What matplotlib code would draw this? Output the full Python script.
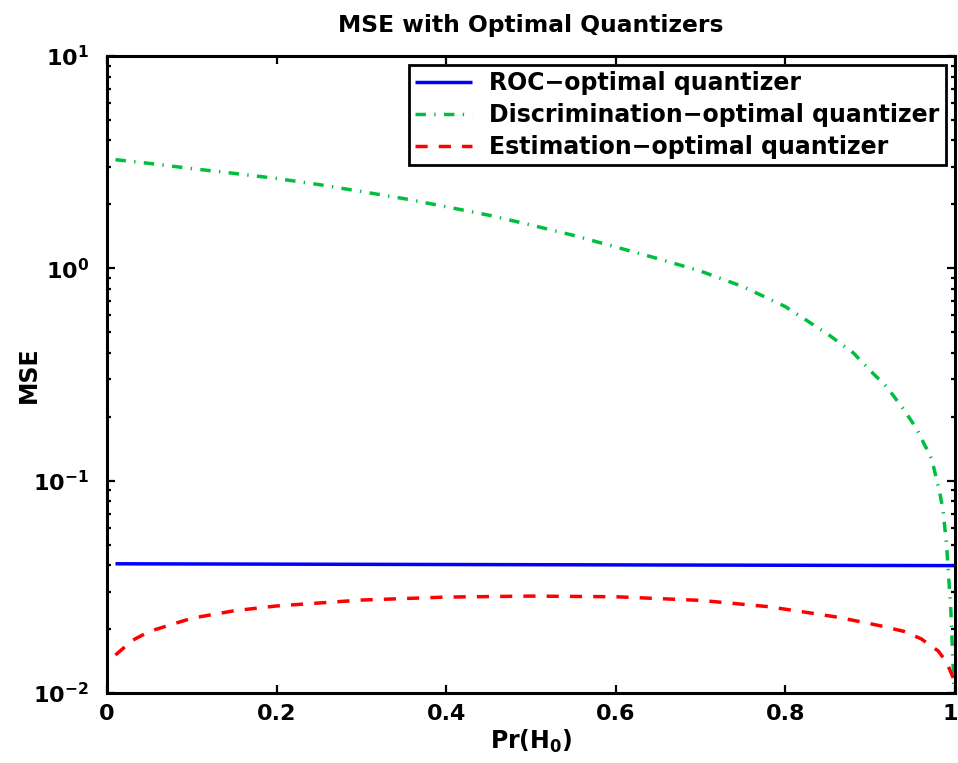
import numpy as np
import matplotlib
matplotlib.use("Agg")
import matplotlib.pyplot as plt
from matplotlib.ticker import FixedLocator, FixedFormatter, LogLocator, NullFormatter
from matplotlib.transforms import ScaledTranslation

plt.rcParams["font.family"] = ["DejaVu Sans"]
plt.rcParams["font.weight"] = "bold"
plt.rcParams["mathtext.fontset"] = "dejavusans"

# Prior probability of H0 and the MSE of each quantizer design
roc_p = [0.01, 0.25, 0.5, 0.75, 0.999]
roc_mse = [0.0406, 0.0404, 0.0402, 0.0400, 0.0398]

disc_p = [0.01, 0.05, 0.1, 0.15, 0.2, 0.25, 0.3, 0.35, 0.4, 0.45, 0.5, 0.55,
          0.6, 0.65, 0.7, 0.75, 0.8, 0.85, 0.88, 0.9, 0.92, 0.94, 0.955,
          0.965, 0.97, 0.975, 0.982, 0.986, 0.99, 0.995, 0.999]
disc_mse = [3.25, 3.12, 2.95, 2.80, 2.65, 2.48, 2.30, 2.13, 1.95, 1.78, 1.60, 1.43,
            1.26, 1.11, 0.97, 0.82, 0.66, 0.49, 0.40, 0.33, 0.275, 0.215, 0.175,
            0.145, 0.135, 0.115, 0.088, 0.072, 0.050, 0.025, 0.0102]

est_p = [0.01, 0.03, 0.05, 0.1, 0.15, 0.2, 0.3, 0.4, 0.5, 0.6, 0.7, 0.78,
         0.83, 0.86, 0.89, 0.91, 0.94, 0.96, 0.98, 0.99, 0.999]
est_mse = [0.0151, 0.0177, 0.0195, 0.0225, 0.0244, 0.0257, 0.0274, 0.0283, 0.0286,
           0.0284, 0.0273, 0.0255, 0.0238, 0.0228, 0.0216, 0.0208, 0.0195, 0.0180,
           0.0158, 0.0140, 0.0115]

labels = ["ROC\u2212optimal quantizer",
          "Discrimination\u2212optimal quantizer",
          "Estimation\u2212optimal quantizer"]

x_ticks = [0, 0.2, 0.4, 0.6, 0.8, 1]
x_tick_labels = ["0", "0.2", "0.4", "0.6", "0.8", "1"]
y_ticks = [1e-2, 1e-1, 1e0, 1e1]
y_tick_labels = [r"$\mathbf{10^{-2}}$", r"$\mathbf{10^{-1}}$",
                 r"$\mathbf{10^{0}}$", r"$\mathbf{10^{1}}$"]

fig = plt.figure(figsize=(9.58, 7.63), dpi=100)
ax = fig.add_axes([107 / 958, 70 / 763, 848 / 958, 637 / 763])

lw = 2.5
ax.plot(roc_p, roc_mse, color="#0000FF", lw=lw, solid_capstyle="butt",
        label=labels[0])
ax.plot(disc_p, disc_mse, color="#00BF40", lw=lw,
        linestyle=(0, (3.0, 2.4, 0.4, 2.4)), label=labels[1])
ax.plot(est_p, est_mse, color="#FF0000", lw=lw,
        linestyle=(0, (3.5, 3.2)), label=labels[2])

ax.set_yscale("log")
ax.set_xlim(0, 1)
ax.set_ylim(1e-2, 1e1)

ax.xaxis.set_major_locator(FixedLocator(x_ticks))
ax.xaxis.set_major_formatter(FixedFormatter(x_tick_labels))
ax.yaxis.set_major_locator(FixedLocator(y_ticks))
ax.yaxis.set_major_formatter(FixedFormatter(y_tick_labels))
ax.yaxis.set_minor_locator(LogLocator(base=10, subs=np.arange(2, 10)))
ax.yaxis.set_minor_formatter(NullFormatter())

for s in ax.spines.values():
    s.set_linewidth(2.2)
ax.tick_params(which="both", direction="in", top=True, right=True, width=1.6)
ax.tick_params(which="major", length=6, labelsize=16)
ax.tick_params(which="minor", length=3)
ax.tick_params(axis="x", which="major", pad=8)
ax.tick_params(axis="y", which="major", pad=13)

# keep the last x tick label inside the figure edge
fig.canvas.draw()
last = ax.get_xticklabels()[-1]
last.set_transform(last.get_transform() + ScaledTranslation(-5 / 100, 0, fig.dpi_scale_trans))

ax.set_title("MSE with Optimal Quantizers", fontsize=16.8, fontweight="bold", pad=17)
ax.set_xlabel(r"$\mathbf{Pr(H_0)}$", fontsize=17)
ax.xaxis.set_label_coords(0.5, -(728 - 693) / 637)
ax.xaxis.label.set_va("top")
ax.set_ylabel("MSE", fontsize=17, fontweight="bold")
ax.yaxis.set_label_coords(-(107 - 41) / 848, 0.5)

leg = ax.legend(loc="upper right", fontsize=17, frameon=True, fancybox=False,
                edgecolor="black", framealpha=1, borderaxespad=0.4,
                handlelength=2.4, handletextpad=0.75, labelspacing=0.33,
                borderpad=0.25)
leg.get_frame().set_linewidth(2.0)
for t in leg.get_texts():
    t.set_fontweight("bold")

fig.savefig("out.png", dpi=100)
